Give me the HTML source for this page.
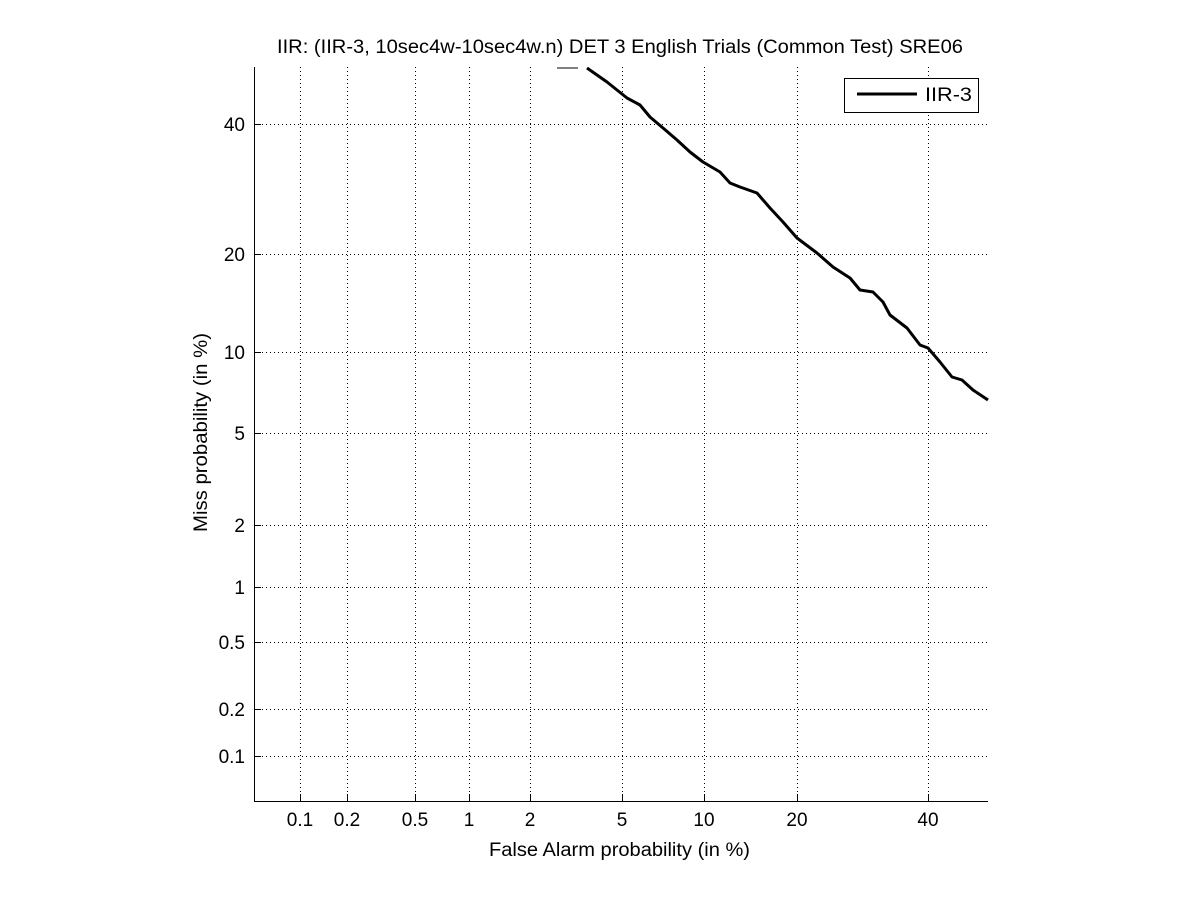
<!DOCTYPE html>
<html><head><style>body{margin:0;background:#fff}svg text{font-family:"Liberation Sans",sans-serif;font-size:19px;fill:#000}</style></head><body>
<svg width="1201" height="900" xmlns="http://www.w3.org/2000/svg">
<rect width="1201" height="900" fill="#fff"/>
<g stroke="#000" stroke-width="1" stroke-dasharray="1,3">
<line x1="300.5" y1="67" x2="300.5" y2="801"/><line x1="347.5" y1="67" x2="347.5" y2="801"/><line x1="415.5" y1="67" x2="415.5" y2="801"/><line x1="469.5" y1="67" x2="469.5" y2="801"/><line x1="530.5" y1="67" x2="530.5" y2="801"/><line x1="622.5" y1="67" x2="622.5" y2="801"/><line x1="704.5" y1="67" x2="704.5" y2="801"/><line x1="797.5" y1="67" x2="797.5" y2="801"/><line x1="928.5" y1="67" x2="928.5" y2="801"/>
<line x1="254" y1="124.5" x2="988" y2="124.5"/><line x1="254" y1="254.5" x2="988" y2="254.5"/><line x1="254" y1="352.5" x2="988" y2="352.5"/><line x1="254" y1="433.5" x2="988" y2="433.5"/><line x1="254" y1="525.5" x2="988" y2="525.5"/><line x1="254" y1="587.5" x2="988" y2="587.5"/><line x1="254" y1="642.5" x2="988" y2="642.5"/><line x1="254" y1="709.5" x2="988" y2="709.5"/><line x1="254" y1="756.5" x2="988" y2="756.5"/>
</g>
<g stroke="#000" stroke-width="1">
<line x1="254.5" y1="67" x2="254.5" y2="801"/><line x1="254" y1="801.5" x2="988" y2="801.5"/>
<path d="M300.5 801v-7M347.5 801v-7M415.5 801v-7M469.5 801v-7M530.5 801v-7M622.5 801v-7M704.5 801v-7M797.5 801v-7M928.5 801v-7M254 124.5h7M254 254.5h7M254 352.5h7M254 433.5h7M254 525.5h7M254 587.5h7M254 642.5h7M254 709.5h7M254 756.5h7"/>
<line x1="557" y1="68" x2="578" y2="68"/>
</g>
<polyline fill="none" stroke="#000" stroke-width="3" stroke-linejoin="round" points="587,68 607,82 622,94 627,98 640,105 650,117 663,128 677,140 690,152 703,162 720,172 730,183 740,187 757,193 770,208 783,222 797,238 817,253 833,267 850,278 860,290 873,292 883,302 890,315 907,328 920,345 928,348 940,362 952,377 962,380 973,390 988,400"/>
<rect x="844.5" y="78.5" width="134" height="34" fill="#fff" stroke="#000"/>
<line x1="857" y1="94" x2="917" y2="94" stroke="#000" stroke-width="3"/>
<text x="925" y="101" textLength="47" lengthAdjust="spacingAndGlyphs">IIR-3</text>
<g text-anchor="middle">
<text x="300" y="826">0.1</text><text x="347" y="826">0.2</text><text x="415" y="826">0.5</text><text x="469" y="826">1</text><text x="530" y="826">2</text><text x="622" y="826">5</text><text x="704" y="826">10</text><text x="797" y="826">20</text><text x="928" y="826">40</text>
</g>
<text x="489" y="856" textLength="261" lengthAdjust="spacingAndGlyphs">False Alarm probability (in %)</text>
<text x="277" y="53" textLength="686" lengthAdjust="spacingAndGlyphs">IIR: (IIR-3, 10sec4w-10sec4w.n) DET 3 English Trials (Common Test) SRE06</text>
<g text-anchor="end">
<text x="245" y="131">40</text><text x="245" y="261">20</text><text x="245" y="359">10</text><text x="245" y="440">5</text><text x="245" y="532">2</text><text x="245" y="594">1</text><text x="245" y="649">0.5</text><text x="245" y="716">0.2</text><text x="245" y="763">0.1</text>
</g>
<text transform="translate(207,532) rotate(-90)" textLength="199" lengthAdjust="spacingAndGlyphs">Miss probability (in %)</text>
</svg>
</body></html>
